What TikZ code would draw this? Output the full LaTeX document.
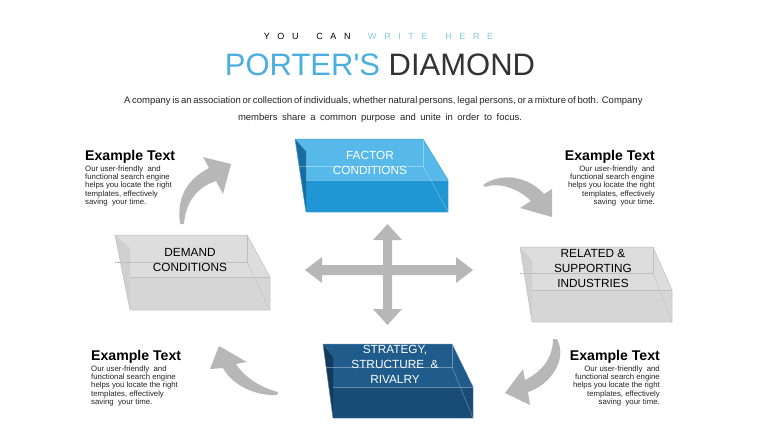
\documentclass[tikz,border=0pt]{standalone}
\usepackage{fontspec}
\setmainfont{Liberation Sans}
\newfontfamily\titlefont{Liberation Sans}[Ligatures=TeXOff]
\definecolor{ttlblue}{RGB}{74,174,224}
\definecolor{ltblue}{RGB}{130,200,230}
\definecolor{dkgray}{RGB}{51,51,51}
\definecolor{txtgray}{RGB}{35,35,35}
\definecolor{arrgray}{RGB}{183,183,183}
\definecolor{ftop}{RGB}{87,185,234}
\definecolor{ffront}{RGB}{33,150,212}
\definecolor{fleft}{RGB}{24,108,158}
\definecolor{fedge}{RGB}{60,160,210}
\definecolor{ghtop}{RGB}{221,221,221}
\definecolor{ghfront}{RGB}{214,214,214}
\definecolor{ghleft}{RGB}{208,208,208}
\definecolor{ghedge}{RGB}{190,190,190}
\definecolor{stop}{RGB}{31,92,140}
\definecolor{sfront}{RGB}{24,76,118}
\definecolor{sleft}{RGB}{18,58,92}
\definecolor{sedge}{RGB}{80,130,175}
\newcommand\slab[8]{%
 \pgfmathsetmacro\bx{#1+#3}%
 \pgfmathsetmacro\cx{#1+#3+#4}%
 \pgfmathsetmacro\cy{#2+#5}%
 \pgfmathsetmacro\ey{#2+#5+#6}%
 \pgfmathsetmacro\fx{#1+#7}%
 \pgfmathsetmacro\ly{#2+0.3*#5}%
 \pgfmathsetmacro\hy{#2+#8}%
 \fill[slabtop] (#1,#2) -- (\bx,#2) -- (\cx,\cy) -- (\fx,\cy) -- (\fx,\ly) -- cycle;
 \fill[slabfront] (\fx,\cy) -- (\cx,\cy) -- (\cx,\ey) -- (\fx,\ey) -- cycle;
 \fill[slableft] (#1,#2) -- (\fx,\ly) -- (\fx,\ey) -- cycle;
 \draw[slabhidden] (#1,\hy) -- (\bx,\hy) -- (\bx,#2);
 \draw[slabhidden] (\bx,\hy) -- (\cx,\ey);
 \draw[slabhidden] (\fx,\cy) -- (\cx,\cy);
 \draw[slabedge] (#1,#2) -- (\bx,#2) -- (\cx,\cy) -- (\cx,\ey) -- (\fx,\ey) -- cycle;
}
\newcommand\bodytxt{Our user-friendly\ \ and\\functional search engine\\helps you locate the right\\templates, effectively\\saving\ \ your time.}
\newcommand\lsp{\kern7.6pt}
\begin{document}
\begin{tikzpicture}[x=1pt,y=-1pt,
  head/.style={inner sep=0pt, font=\bfseries\fontsize{14.1}{16}\selectfont, text=black},
  body/.style={inner sep=0pt, font=\fontsize{7.8}{8.3}\selectfont, text=txtgray},
  boxtxt/.style={inner sep=0pt, align=center, font=\fontsize{11.8}{15}\selectfont},
  arr/.style={fill=arrgray},
  slabhidden/.style={draw=white, line width=0.5pt, opacity=0.35},
  slabedge/.style={line width=0.5pt}]
\useasboundingbox (0,0) rectangle (760,428);

% titles
\node[inner sep=0pt, anchor=base, font=\fontsize{9}{9}\selectfont] (sub) at (378.5,39.5)
  {Y\lsp O\lsp U\lsp\ \lsp C\lsp A\lsp N\lsp\ \lsp \textcolor{ltblue}{W\lsp R\lsp I\lsp T\lsp E\lsp\ \lsp H\lsp E\lsp R\lsp E}};
\node[inner sep=0pt, anchor=base, font=\titlefont\fontsize{31}{31}\selectfont] (title) at (380,75)
  {\textcolor{ttlblue}{PORTER'S} \textcolor{dkgray}{DIAMOND}};
\node[inner sep=0pt, anchor=north, align=center, text=txtgray, font=\fontsize{9.5}{17}\selectfont] (intro) at (380,96.8)
  {\makebox[512pt][s]{A company is an association or collection of individuals, whether natural persons, legal persons, or a mixture of both. Company}\\
   \makebox[284pt][s]{members share a common purpose and unite in order to focus.}};

% boxes
\begin{scope}[slabtop/.style={fill=ftop}, slabfront/.style={fill=ffront}, slableft/.style={fill=fleft}, slabedge/.append style={draw=fedge}]
 \slab{295}{139}{128}{25}{41}{32}{11}{27}
\end{scope}
\begin{scope}[slabtop/.style={fill=ghtop}, slabfront/.style={fill=ghfront}, slableft/.style={fill=ghleft}, slabedge/.append style={draw=ghedge}, slabhidden/.style={draw=ghedge, line width=0.4pt}]
 \slab{115}{235}{132}{23}{42}{33}{15}{27}
 \slab{520}{247}{133}{19}{43}{32}{12}{26}
\end{scope}
\begin{scope}[slabtop/.style={fill=stop}, slabfront/.style={fill=sfront}, slableft/.style={fill=sleft}, slabedge/.append style={draw=sedge}]
 \slab{323}{344}{129}{21}{43}{31}{10}{23}
\end{scope}

\node[boxtxt, text=white] (factor) at (370,162.5) {FACTOR\\CONDITIONS};
\node[boxtxt, text=black] (demand) at (190,260) {DEMAND\\CONDITIONS};
\node[boxtxt, text=black] (related) at (593,268.5) {RELATED \&\\SUPPORTING\\INDUSTRIES};
\node[boxtxt, text=white] (strategy) at (395,364.5) {STRATEGY,\\STRUCTURE\ \ \&\\RIVALRY};

% central cross
\fill[arr] (387.5,224) -- (402,240) -- (392,240) -- (392,265) -- (456,265) -- (456,257) -- (473,270)
  -- (456,283) -- (456,275) -- (392,275) -- (392,309) -- (402,309) -- (387.5,325) -- (373,309)
  -- (383,309) -- (383,275) -- (322,275) -- (322,283) -- (305,270) -- (322,257) -- (322,265)
  -- (383,265) -- (383,240) -- (373,240) -- cycle;

% curved arrows
\fill[arr] (180,224) .. controls (176,194) and (190,178) .. (209,168) -- (203,157) -- (231,164)
  -- (223,194) -- (216,181) .. controls (200,186) and (186,199) .. (184,224) -- cycle;
\fill[arr] (483,185) .. controls (501,172) and (528,176) .. (544,194) -- (552,189) -- (552,217)
  -- (520,208) -- (531,201) .. controls (518,188) and (498,182) .. (485,187) -- cycle;
\fill[arr] (557,339) .. controls (568,360) and (550,385) .. (528,392) -- (530,405) -- (505,393)
  -- (523,369) -- (525,380) .. controls (545,370) and (553,355) .. (553,339) -- cycle;
\fill[arr] (278,392) .. controls (262,388) and (245,378) .. (236,364) -- (247,362) -- (219,346)
  -- (210,369) -- (223,368) .. controls (232,385) and (255,396) .. (277,395) -- cycle;

% example texts
\node[head, anchor=base west] (h1) at (85,160) {Example Text};
\node[body, anchor=north west, align=left] (b1) at (85,165.5) {\bodytxt};
\node[head, anchor=base east] (h2) at (655,160) {Example Text};
\node[body, anchor=north east, align=right] (b2) at (655,165.5) {\bodytxt};
\node[head, anchor=base west] (h3) at (91,360) {Example Text};
\node[body, anchor=north west, align=left] (b3) at (91,365.5) {\bodytxt};
\node[head, anchor=base east] (h4) at (660,360) {Example Text};
\node[body, anchor=north east, align=right] (b4) at (660,365.5) {\bodytxt};
\end{tikzpicture}
\end{document}
